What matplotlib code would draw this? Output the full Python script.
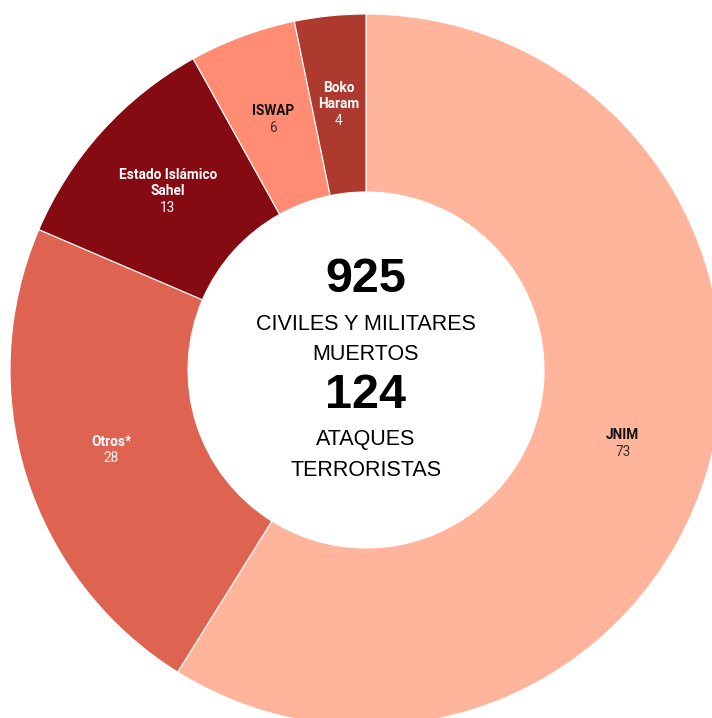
import numpy as np
import matplotlib
matplotlib.use("Agg")
import matplotlib.pyplot as plt

groups = ["JNIM", "Otros*", "Estado Islámico\nSahel", "ISWAP", "Boko\nHaram"]
attacks = [73, 28, 13, 6, 4]
colors = ["#FFB49B", "#DE6350", "#860A11", "#FF8C73", "#AE3A2F"]
text_colors = ["#111111", "#FFFFFF", "#FFFFFF", "#111111", "#FFFFFF"]
value_colors = ["#333333", "#F5F5F5", "#F5F5F5", "#333333", "#F5F5F5"]
center_lines = [("925", True), ("CIVILES Y MILITARES", False), ("MUERTOS", False),
                ("124", True), ("ATAQUES", False), ("TERRORISTAS", False)]

W, H = 712, 718
fig = plt.figure(figsize=(W / 100, H / 100), dpi=100)
ax = fig.add_axes([0, 0, 1, 1])
ax.set_xlim(0, W)
ax.set_ylim(0, H)
ax.set_aspect("equal")
ax.axis("off")

cx, cy = 366, H - 370
R = 356
ax.pie(attacks, colors=colors, startangle=90, counterclock=False,
       radius=R, center=(cx, cy),
       wedgeprops=dict(width=R - 178, edgecolor="white", linewidth=0.8))
ax.set_xlim(0, W)
ax.set_ylim(0, H)

total = sum(attacks)
cum = 0
lab_r = 0.75 * R
ls = 16.5
for g, v, tc, vc in zip(groups, attacks, text_colors, value_colors):
    mid = (cum + v / 2) / total * 2 * np.pi
    cum += v
    x = cx + lab_r * np.sin(mid)
    y = cy + lab_r * np.cos(mid)
    lines = g.split("\n")
    n = len(lines) + 1
    top = y + (n - 1) / 2 * ls
    for i, ln in enumerate(lines):
        ax.text(x, top - i * ls, ln, ha="center", va="center", fontsize=9.8,
                fontweight="bold", color=tc, family="Roboto")
    ax.text(x, top - len(lines) * ls, str(v), ha="center", va="center",
            fontsize=9.8, color=vc, family="Roboto")

ys = [279, 324, 355, 396, 440, 470]
for (t, big), yy in zip(center_lines, ys):
    if big:
        ax.text(cx, H - yy, t, ha="center", va="center", fontsize=35,
                fontweight="bold", color="black", family="Liberation Sans")
    else:
        ax.text(cx, H - yy, t, ha="center", va="center", fontsize=15.5,
                color="black", family="Liberation Sans")

fig.savefig("out.png", dpi=100)
